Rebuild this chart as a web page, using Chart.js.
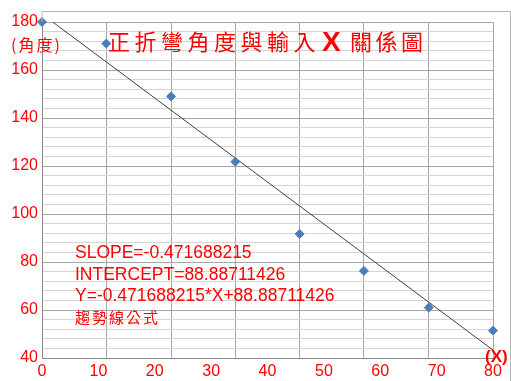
<!DOCTYPE html>
<html>
<head>
<meta charset="utf-8">
<script src="https://cdn.jsdelivr.net/npm/chart.js@4"></script>
<style>
  html, body { margin: 0; padding: 0; background: #fff; }
  #wrap { width: 511px; height: 381px; position: relative; }
</style>
</head>
<body>
<div id="wrap"><canvas id="chart"></canvas></div>
<script>
// datos
const xValues = [0, 11.4, 22.9, 34.3, 45.7, 57.1, 68.6, 80];
const angleValues = [180, 171, 149, 121.8, 91.7, 76.3, 61, 51.4];
const trendX = [1.9, 80];
const trendY = [180, 43.3];
const xTickLabels = [0, 10, 20, 30, 40, 50, 60, 70, 80];
const yTickLabels = [40, 60, 80, 100, 120, 140, 160, 180];
const formulaLines = ['SLOPE=-0.471688215', 'INTERCEPT=88.88711426', 'Y=-0.471688215*X+88.88711426'];

const RED = '#f00';
const SANS = '"Liberation Sans", Arial, sans-serif';
const CJK = '"Noto Sans CJK TC", "Noto Sans CJK SC", sans-serif';

// textos fijos: título, unidades y fórmula
const textPlugin = {
  id: 'textos',
  afterDraw(chart) {
    const ctx = chart.ctx;
    const area = chart.chartArea;
    ctx.save();
    // marco exterior
    ctx.strokeStyle = '#b4b4b4';
    ctx.lineWidth = 1;
    ctx.beginPath();
    ctx.moveTo(area.left, area.top);
    ctx.lineTo(area.left, 11.5);
    ctx.lineTo(510.5, 11.5);
    ctx.lineTo(510.5, 381);
    ctx.stroke();

    ctx.fillStyle = RED;
    ctx.textBaseline = 'middle';
    ctx.textAlign = 'left';

    // título
    ctx.font = '22px ' + CJK;
    let x = 108;
    for (const ch of '正折彎角度與輸入') { ctx.fillText(ch, x, 42); x += 26.5; }
    ctx.font = 'bold 28px ' + SANS;
    ctx.fillText('X', 322, 43);
    ctx.font = '22px ' + CJK;
    x = 350;
    for (const ch of '關係圖') { ctx.fillText(ch, x, 42); x += 25.5; }

    // unidades
    ctx.font = '16px ' + CJK;
    ctx.letterSpacing = '2px';
    ctx.fillText('(角度)', 11, 45);
    ctx.letterSpacing = '0px';
    ctx.font = 'bold 17px ' + SANS;
    ctx.fillText('(X)', 485, 357);

    // fórmula de la tendencia
    ctx.font = '17.5px ' + SANS;
    formulaLines.forEach((t, i) => ctx.fillText(t, 75, 253.5 + i * 21.3));
    ctx.font = '15px ' + CJK;
    ctx.letterSpacing = '2px';
    ctx.fillText('趨勢線公式', 75, 317);
    ctx.restore();
  }
};

new Chart(document.getElementById('chart'), {
  type: 'scatter',
  data: {
    datasets: [
      {
        label: 'Tendencia',
        type: 'line',
        data: trendX.map((v, i) => ({ x: v, y: trendY[i] })),
        borderColor: '#404040',
        borderWidth: 1,
        pointRadius: 0,
        fill: false,
        order: 2
      },
      {
        label: 'Ángulo',
        data: xValues.map((v, i) => ({ x: v, y: angleValues[i] })),
        backgroundColor: '#4a7ebb',
        borderColor: '#4a7ebb',
        pointStyle: 'rectRot',
        pointRadius: 4.5,
        clip: false,
        order: 1
      }
    ]
  },
  options: {
    responsive: true,
    maintainAspectRatio: false,
    animation: false,
    layout: { padding: { left: 0, top: 22, right: 18, bottom: 0 } },
    plugins: {
      legend: { display: false },
      tooltip: { enabled: false }
    },
    scales: {
      // eje solo para la cuadrícula vertical
      x: {
        type: 'linear',
        position: 'bottom',
        min: 0, max: 80,
        afterBuildTicks: axis => { axis.ticks = xValues.map(v => ({ value: v })); },
        afterFit: axis => { axis.height = 0; },
        ticks: { display: false },
        grid: { color: '#a6a6a6', drawTicks: false },
        border: { color: '#8c8c8c' }
      },
      // eje con las etiquetas 0..80
      xl: {
        type: 'linear',
        position: 'bottom',
        min: 0, max: 80,
        afterBuildTicks: axis => { axis.ticks = xTickLabels.map(v => ({ value: v })); },
        afterFit: axis => { axis.height = 23; },
        ticks: { color: RED, font: { size: 16, family: SANS }, padding: 4, maxRotation: 0, autoSkip: false },
        grid: { display: false, drawTicks: false },
        border: { display: false }
      },
      y: {
        min: 40, max: 180,
        afterFit: axis => { axis.width = 42; },
        ticks: {
          stepSize: 4,
          autoSkip: false,
          color: RED,
          padding: 4,
          font: { size: 16, family: SANS },
          callback: v => yTickLabels.includes(v) ? v : ''
        },
        grid: {
          drawTicks: false,
          color: c => (c.tick && yTickLabels.includes(c.tick.value)) ? '#a6a6a6' : '#d4d4d4'
        },
        border: { color: '#8c8c8c' }
      }
    }
  },
  plugins: [textPlugin]
});
</script>
</body>
</html>
